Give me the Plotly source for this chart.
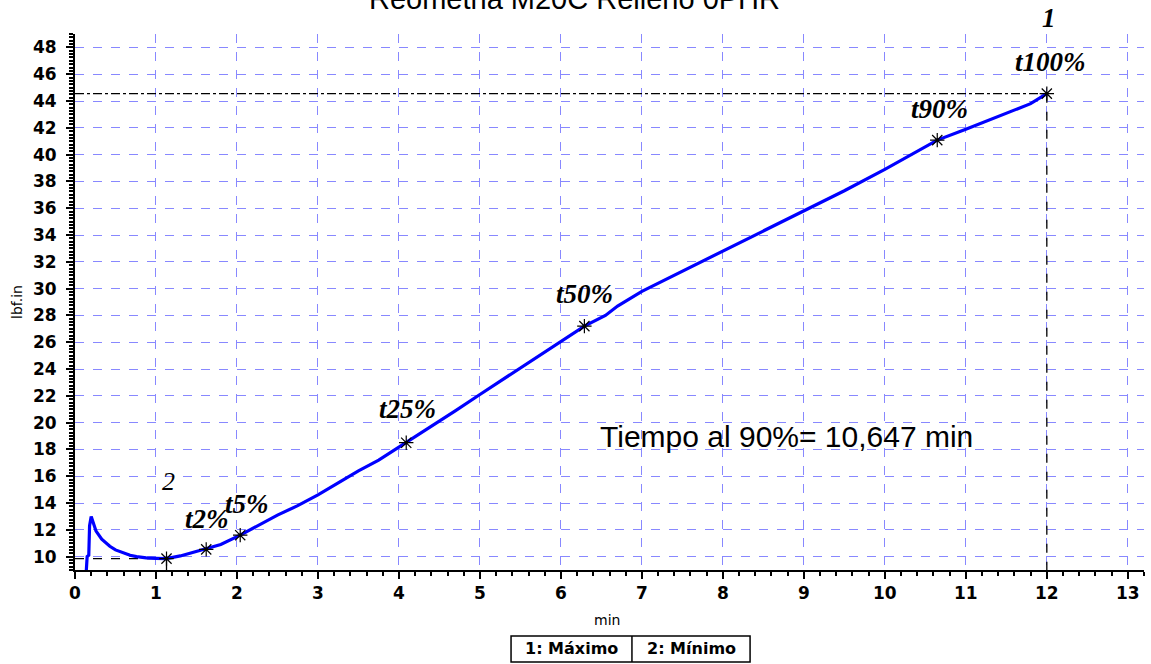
import plotly.graph_objects as go

# Rheometer curve: torque (lbf.in) versus time (min)
time_min = [0.14, 0.15, 0.17, 0.18, 0.20, 0.26, 0.33, 0.43, 0.50, 0.59, 0.68, 0.76,
            0.88, 1.00, 1.13, 1.30, 1.45, 1.62, 1.80, 2.04, 2.25, 2.50, 2.75, 3.00,
            3.25, 3.50, 3.75, 4.09, 4.40, 4.70, 5.00, 5.30, 5.60, 6.00, 6.29, 6.55,
            6.70, 7.00, 7.50, 8.00, 8.50, 9.00, 9.50, 10.00, 10.30, 10.647, 11.00,
            11.30, 11.60, 11.80, 12.00]
torque = [9.0, 10.0, 10.1, 12.3, 13.0, 11.9, 11.3, 10.77, 10.5, 10.27, 10.1, 10.0,
          9.9, 9.87, 9.85, 10.05, 10.3, 10.54, 10.9, 11.6, 12.3, 13.1, 13.8, 14.6,
          15.5, 16.4, 17.2, 18.5, 19.7, 20.9, 22.1, 23.3, 24.5, 26.1, 27.2, 28.0,
          28.7, 29.8, 31.3, 32.8, 34.3, 35.8, 37.3, 38.9, 39.9, 41.08, 41.9,
          42.6, 43.3, 43.8, 44.55]

# Characteristic cure points
mark_names = ["t2%", "t5%", "t25%", "t50%", "t90%", "t100%"]
mark_t = [1.62, 2.04, 4.09, 6.29, 10.647, 12.0]
mark_v = [10.54, 11.6, 18.5, 27.2, 41.08, 44.55]

min_t, min_v = 1.13, 9.85      # 2: Mínimo
max_t, max_v = 12.0, 44.55     # 1: Máximo

x_ticks = list(range(0, 14))
y_ticks = list(range(10, 50, 2))

title_text = "Reometria M20C Relleno 0PHR"
t90_text = "Tiempo al 90%= 10,647 min"

fig = go.Figure()

# reference lines to the extremes
fig.add_trace(go.Scatter(x=[0, max_t], y=[max_v, max_v], mode="lines",
                         line=dict(color="black", width=1.3, dash="dashdot"),
                         hoverinfo="skip", showlegend=False))
fig.add_trace(go.Scatter(x=[max_t, max_t], y=[max_v, 9], mode="lines",
                         line=dict(color="black", width=1.3, dash="dash"),
                         hoverinfo="skip", showlegend=False))
fig.add_trace(go.Scatter(x=[0, min_t], y=[min_v, min_v], mode="lines",
                         line=dict(color="black", width=1.3, dash="dash"),
                         hoverinfo="skip", showlegend=False))
fig.add_trace(go.Scatter(x=[min_t, min_t], y=[min_v, 9], mode="lines",
                         line=dict(color="black", width=1.3),
                         hoverinfo="skip", showlegend=False))

fig.add_trace(go.Scatter(x=time_min, y=torque, mode="lines",
                         line=dict(color="#0000ff", width=3.2),
                         showlegend=False))

fig.add_trace(go.Scatter(x=[min_t] + mark_t, y=[min_v] + mark_v, mode="markers",
                         marker=dict(symbol="asterisk-open", size=12, color="black",
                                     line=dict(color="black", width=1.2)),
                         showlegend=False))

label_font = dict(family="Liberation Serif", size=27, color="black",
                  style="italic", weight="bold")
label_pos = {"t2%": (1.63, 12.8), "t5%": (2.12, 13.9), "t25%": (4.1, 21.0),
             "t50%": (6.29, 29.6), "t90%": (10.67, 43.4), "t100%": (12.05, 46.9)}
for name in mark_names:
    lx, ly = label_pos[name]
    fig.add_annotation(x=lx, y=ly, text=name, showarrow=False, font=label_font,
                       xanchor="center", yanchor="middle")
# marker numbers for the extremes
fig.add_annotation(xref="paper", yref="paper", x=0.9111, y=1.03, text="1",
                   showarrow=False, font=label_font, xanchor="center", yanchor="middle")
fig.add_annotation(x=1.15, y=15.6, text="2", showarrow=False,
                   xanchor="center", yanchor="middle",
                   font=dict(family="Liberation Serif", size=26, color="black",
                             style="italic"))

fig.add_annotation(x=8.78, y=19.0, text=t90_text, showarrow=False,
                   xanchor="center", yanchor="middle",
                   font=dict(family="Liberation Sans", size=30, color="black"))

# title (partly above the page edge)
fig.add_annotation(xref="paper", yref="paper", x=0.4668, y=1.065, text=title_text,
                   showarrow=False, xanchor="center", yanchor="middle",
                   font=dict(family="Liberation Sans", size=29, color="black"))

# axis titles
fig.add_annotation(xref="paper", yref="paper", x=0.4976, y=-0.0933, text="min",
                   showarrow=False, xanchor="center", yanchor="middle",
                   font=dict(family="DejaVu Sans", size=14, color="black"))
fig.add_annotation(xref="paper", yref="paper", x=-0.0543, y=0.5, text="lbf.in",
                   textangle=-90, showarrow=False, xanchor="center", yanchor="middle",
                   font=dict(family="DejaVu Sans", size=14, color="black"))

# extremes legend box
box_l, box_m, box_r = 0.4079, 0.521, 0.6315
box_t, box_b = -0.1231, -0.1716
fig.add_shape(type="rect", xref="paper", yref="paper", x0=box_l, x1=box_r,
              y0=box_b, y1=box_t, line=dict(color="black", width=1.5))
fig.add_shape(type="line", xref="paper", yref="paper", x0=box_m, x1=box_m,
              y0=box_b, y1=box_t, line=dict(color="black", width=1.5))
leg_font = dict(family="DejaVu Sans", size=16, color="black", weight="bold")
fig.add_annotation(xref="paper", yref="paper", x=(box_l + box_m) / 2,
                   y=(box_t + box_b) / 2, text="1: Máximo", showarrow=False,
                   xanchor="center", yanchor="middle", font=leg_font)
fig.add_annotation(xref="paper", yref="paper", x=(box_m + box_r) / 2,
                   y=(box_t + box_b) / 2, text="2: Mínimo", showarrow=False,
                   xanchor="center", yanchor="middle", font=leg_font)

tick_font = dict(family="DejaVu Sans", size=17, color="black", weight="bold")
grid_color = "#8888ff"

fig.update_xaxes(range=[0, 13.2], tickvals=x_ticks, showline=True, linecolor="black",
                 linewidth=2, ticks="outside", ticklen=7, tickwidth=1.5, tickcolor="black",
                 tickfont=tick_font, showgrid=True, gridcolor=grid_color, griddash="dash",
                 gridwidth=1, zeroline=False,
                 minor=dict(dtick=0.2, ticks="outside", ticklen=4, tickcolor="black",
                            showgrid=False))
fig.update_yaxes(range=[9, 49], tickvals=y_ticks, showline=True, linecolor="black",
                 linewidth=2, ticks="outside", ticklen=7, tickwidth=1.5, tickcolor="black",
                 tickfont=tick_font, showgrid=True, gridcolor=grid_color, griddash="dash",
                 gridwidth=1, zeroline=False, ticklabelstandoff=6,
                 minor=dict(dtick=0.25, ticks="outside", ticklen=4, tickcolor="black",
                            showgrid=False))

fig.update_layout(width=1151, height=664, margin=dict(l=75, r=7, t=34, b=94),
                  paper_bgcolor="white", plot_bgcolor="white", showlegend=False)

fig.write_html("out.html")
